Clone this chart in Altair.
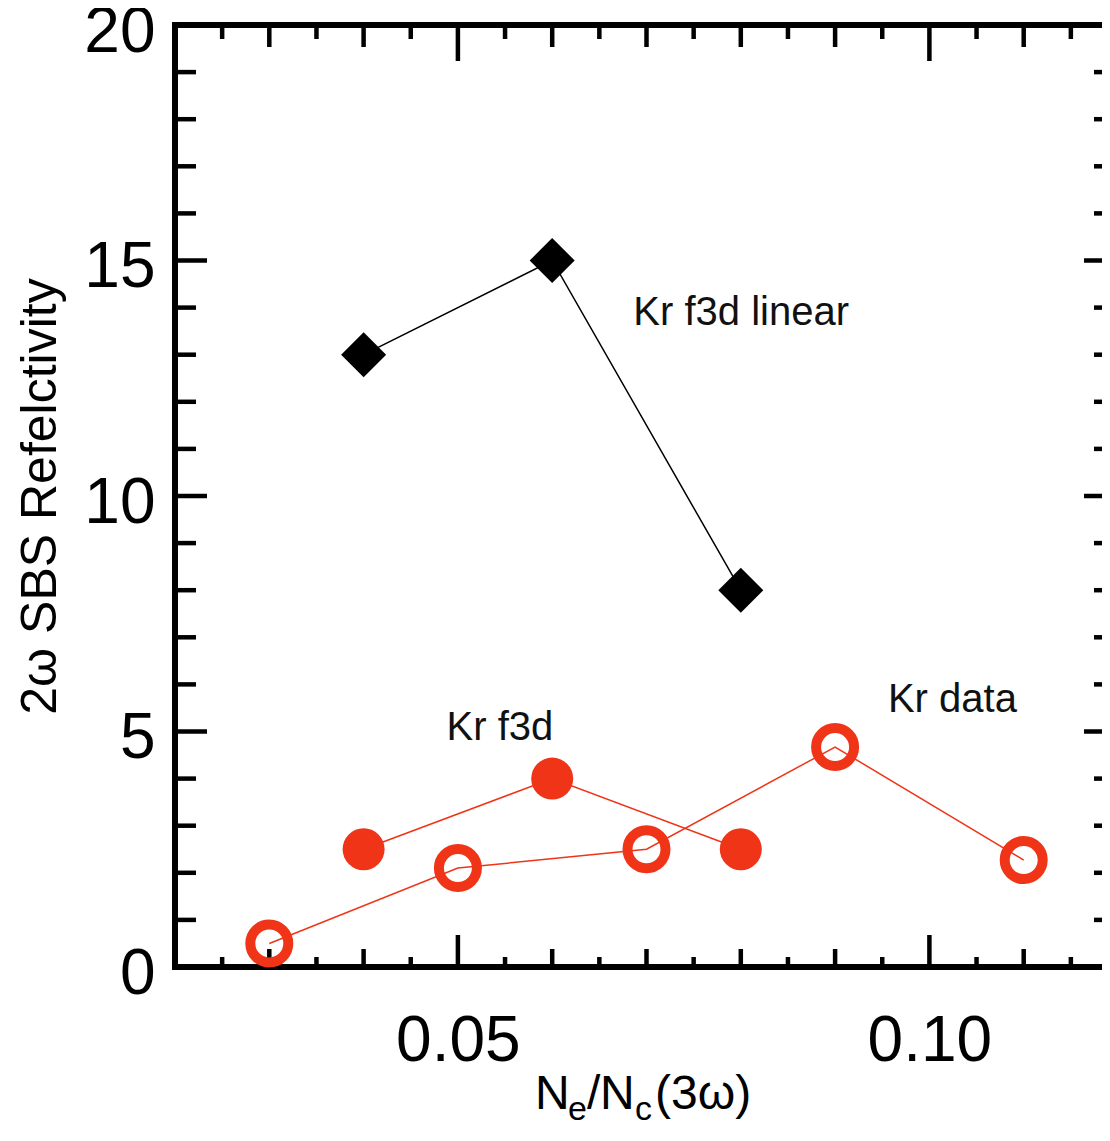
import altair as alt
import pandas as pd

# ---- data ----
lin_x = [0.04, 0.06, 0.08]
lin_y = [13.0, 15.0, 8.0]
f3d_x = [0.04, 0.06, 0.08]
f3d_y = [2.5, 4.0, 2.5]
dat_x = [0.03, 0.05, 0.07, 0.09, 0.11]
dat_y = [0.5, 2.1, 2.5, 4.67, 2.27]

x_labels = [0.05, 0.10]
x_major = [0.05, 0.10]
x_mid = [0.03, 0.04, 0.06, 0.07, 0.08, 0.09, 0.11]
x_minor = [0.025, 0.035, 0.045, 0.055, 0.065, 0.075, 0.085, 0.095, 0.105, 0.115]
y_labels = [0, 5, 10, 15, 20]
y_major = [0, 5, 10, 15, 20]
y_minor = [1, 2, 3, 4, 6, 7, 8, 9, 11, 12, 13, 14, 16, 17, 18, 19]

ann_text = ["Kr f3d linear", "Kr f3d", "Kr data"]
ann_x = [0.0686, 0.0488, 0.0956]
ann_y = [13.63, 4.82, 5.41]

RED = "#EF3417"
FONT = "Liberation Sans"
FULL_W = 943          # pixel span of the x domain (right frame lies just past the page edge)
W, H = 927, 942       # visible view

xs = alt.Scale(domain=[0.02, 0.12], nice=False, zero=False, range=[0, FULL_W])
ys = alt.Scale(domain=[0, 20], nice=False, zero=False)

df_lin = pd.DataFrame({"x": lin_x, "y": lin_y})
df_f3d = pd.DataFrame({"x": f3d_x, "y": f3d_y})
df_dat = pd.DataFrame({"x": dat_x, "y": dat_y})
df_ann = pd.DataFrame({"x": ann_x, "y": ann_y, "t": ann_text})

x_axis = alt.Axis(values=x_labels, format=".2f", tickSize=0, domain=False, grid=False,
                  labelFont=FONT, labelFontSize=64, labelPadding=42, labelColor="black",
                  labelFlush=False, title=None)
y_axis = alt.Axis(values=y_labels, format="d", tickSize=0, domain=False, grid=False,
                  labelFont=FONT, labelFontSize=64, labelPadding=20, labelColor="black",
                  labelFlush=False, labelOffset=7,
                  title="2ω SBS Refelctivity", titleFont=FONT, titleFontSize=50,
                  titleFontWeight="normal", titleColor="black", titlePadding=18)

XN = lambda: alt.X("x:Q", scale=xs, axis=x_axis)
YN = lambda: alt.Y("y:Q", scale=ys, axis=y_axis)

layers = []

# frame (left, top, bottom, right)
def frame_rule(**enc):
    return alt.Chart(pd.DataFrame({"k": [0]})).mark_rule(color="black", strokeWidth=6).encode(**enc)

frame = [
    frame_rule(x=alt.value(0), y=alt.value(-3), y2=alt.value(H + 3)),
    frame_rule(x=alt.value(-3), x2=alt.value(FULL_W + 3), y=alt.value(0)),
    frame_rule(x=alt.value(-3), x2=alt.value(FULL_W + 3), y=alt.value(H)),
    frame_rule(x=alt.value(FULL_W), y=alt.value(-3), y2=alt.value(H + 3)),
]

# tick marks drawn inward from the frame
def xticks(vals, top_len, bot_len):
    d = pd.DataFrame({"x": vals})
    top = alt.Chart(d).mark_rule(color="black", strokeWidth=4.5).encode(
        x=XN(), y=alt.value(0), y2=alt.value(top_len))
    bot = alt.Chart(d).mark_rule(color="black", strokeWidth=4.5).encode(
        x=XN(), y=alt.value(H - bot_len), y2=alt.value(H))
    return [top, bot]

def yticks(vals, left_len, right_len):
    d = pd.DataFrame({"y": vals})
    left = alt.Chart(d).mark_rule(color="black", strokeWidth=4.5).encode(
        y=YN(), x=alt.value(0), x2=alt.value(left_len))
    right = alt.Chart(d).mark_rule(color="black", strokeWidth=4.5).encode(
        y=YN(), x=alt.value(FULL_W - right_len), x2=alt.value(FULL_W))
    return [left, right]

layers += xticks(x_major, 36, 32)
layers += xticks(x_mid, 22, 18)
layers += xticks(x_minor, 14, 10)
layers += yticks(y_major, 32, 34)
layers += yticks(y_minor, 21, 24)

line_lin = alt.Chart(df_lin).mark_line(color="black", strokeWidth=1.5).encode(x=XN(), y=YN())
line_f3d = alt.Chart(df_f3d).mark_line(color=RED, strokeWidth=1.5).encode(x=XN(), y=YN())
line_dat = alt.Chart(df_dat).mark_line(color=RED, strokeWidth=1.5).encode(x=XN(), y=YN())

pts_lin = alt.Chart(df_lin).mark_point(shape="diamond", filled=True, size=2025,
                                       color="black", opacity=1).encode(x=XN(), y=YN())
pts_f3d = alt.Chart(df_f3d).mark_point(shape="circle", filled=True, size=1764,
                                       color=RED, opacity=1).encode(x=XN(), y=YN())
pts_dat = alt.Chart(df_dat).mark_point(shape="circle", filled=False, size=1444,
                                       strokeWidth=10, color=RED, opacity=1).encode(x=XN(), y=YN())

ann = alt.Chart(df_ann).mark_text(align="left", baseline="alphabetic", font=FONT,
                                  fontSize=40, color="#111111").encode(x=XN(), y=YN(), text="t:N")

# x-axis title with subscripts
def piece(txt, px, py, size):
    return alt.Chart(pd.DataFrame({"t": [txt]})).mark_text(
        align="left", baseline="alphabetic", font=FONT, fontSize=size, color="black"
    ).encode(x=alt.value(px), y=alt.value(py), text="t:N")

title_parts = [
    piece("N", 360, 1084, 48),
    piece("e", 393, 1095, 34),
    piece("/", 412, 1084, 48),
    piece("N", 425, 1084, 48),
    piece("c", 460, 1095, 34),
    piece("(3ω)", 480, 1084, 48),
]

chart = alt.layer(line_lin, line_f3d, line_dat, *frame, *layers, pts_lin, pts_f3d, pts_dat,
                  ann, *title_parts).properties(
    width=W, height=H,
    padding={"left": 167, "top": 17, "right": 0, "bottom": 161},
    autosize=alt.AutoSizeParams(type="none"),
    background="white",
).configure_view(stroke=None)

chart.save("out.html", embed_options={"renderer": "svg", "actions": False})
